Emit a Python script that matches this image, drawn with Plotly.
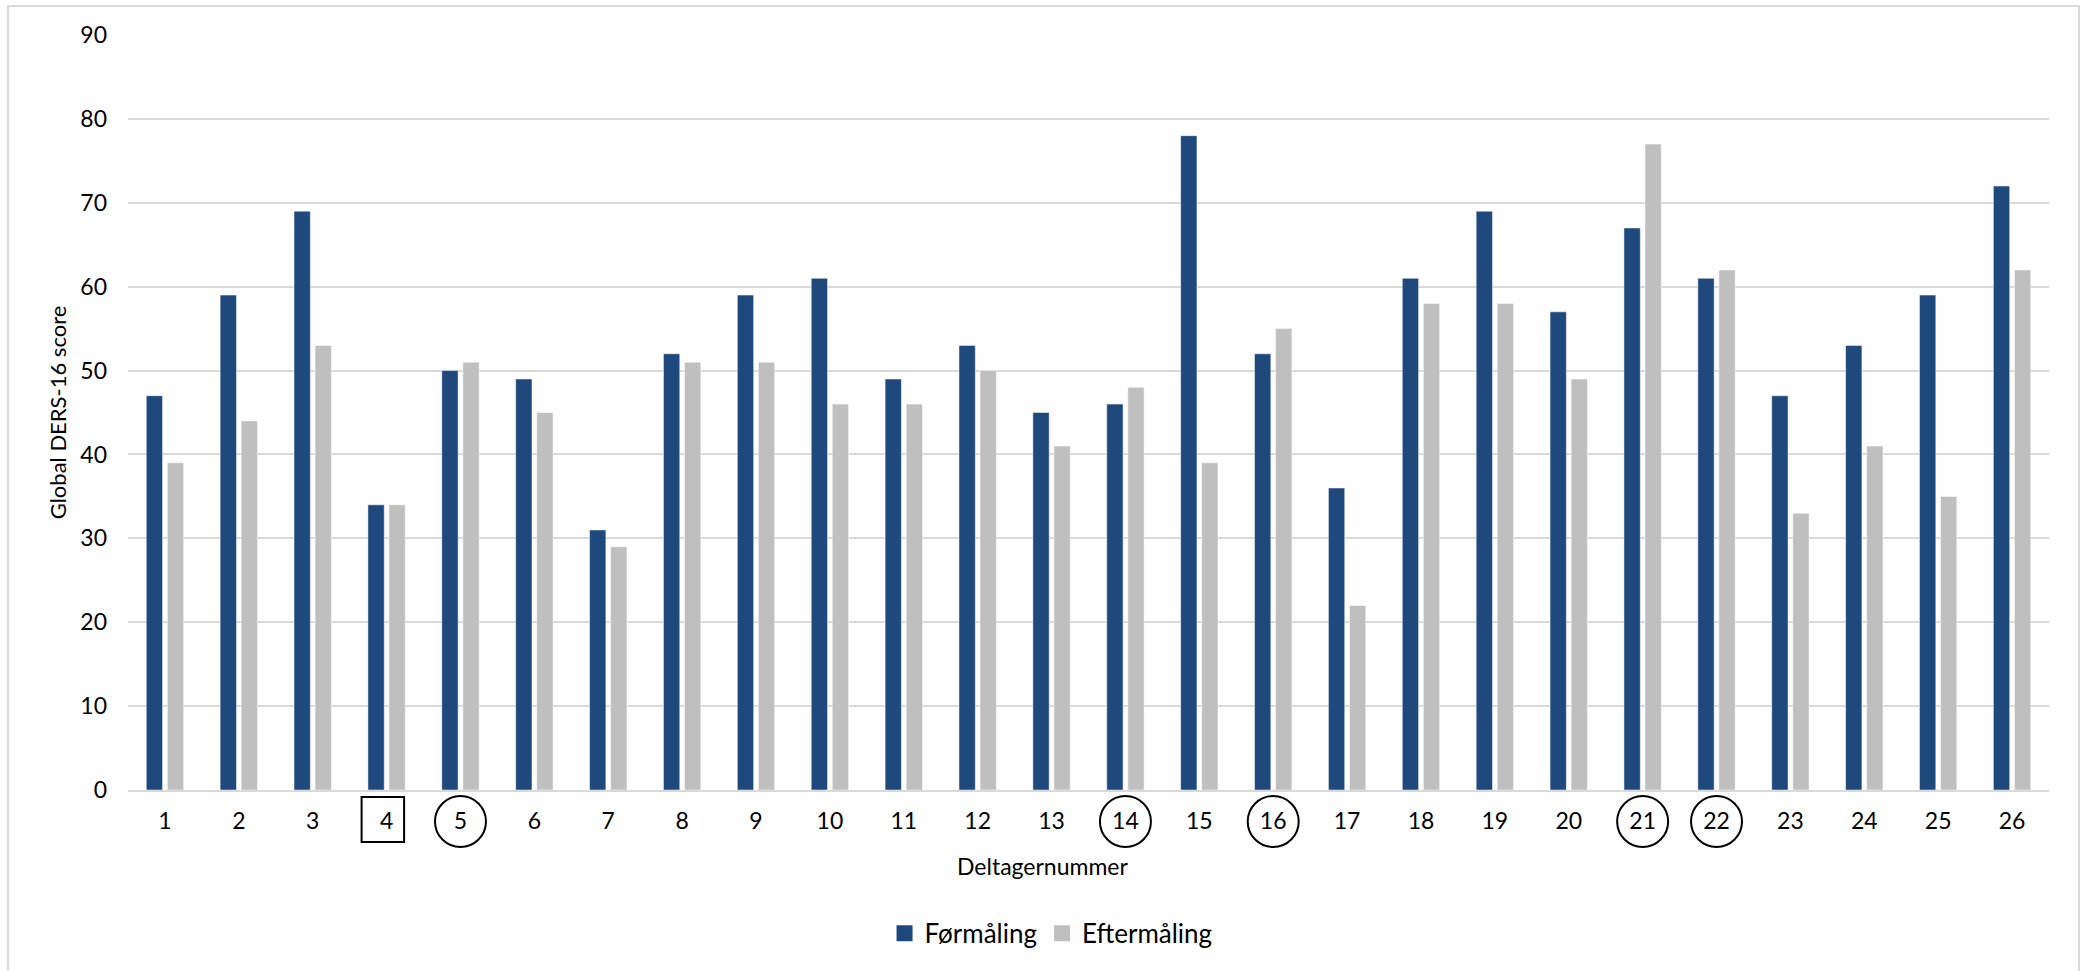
import plotly.graph_objects as go

participants = [str(i) for i in range(1, 27)]
formaaling = [47, 59, 69, 34, 50, 49, 31, 52, 59, 61, 49, 53, 45, 46, 78, 52, 36, 61, 69, 57, 67, 61, 47, 53, 59, 72]
eftermaaling = [39, 44, 53, 34, 51, 45, 29, 51, 51, 46, 46, 50, 41, 48, 39, 55, 22, 58, 58, 49, 77, 62, 33, 41, 35, 62]
circled = ["5", "14", "16", "21", "22"]
boxed = ["4"]
y_ticks = list(range(0, 91, 10))

BLUE = "#1F497D"
GRAY = "#BFBFBF"
GRID = "#D9D9D9"
FONT = "Lato"

W, H = 2087, 971
ML, MR, MT, MB = 128, 38, 35, 181

fig = go.Figure()
fig.add_trace(go.Bar(x=participants, y=formaaling, name="Førmåling", marker=dict(color=BLUE, line=dict(color="rgba(255,255,255,0.5)", width=1)), showlegend=False))
fig.add_trace(go.Bar(x=participants, y=eftermaaling, name="Eftermåling", marker=dict(color=GRAY, line=dict(color="rgba(255,255,255,0.5)", width=1)), showlegend=False))
# legend entries with square symbols
for nm, col in [("Førmåling", BLUE), ("Eftermåling", GRAY)]:
    fig.add_trace(go.Scatter(x=[None], y=[None], mode="markers", name=nm,
                             marker=dict(symbol="square", size=16, color=col)))

shapes = []
pw = W - ML - MR
ph = H - MT - MB
# outer chart border
shapes.append(dict(type="rect", xref="paper", yref="paper",
                   x0=(8 - ML) / pw, x1=(2079 - ML) / pw,
                   y0=-(H - MT - ph + 20) / ph, y1=(ph + MT - 6) / ph,
                   line=dict(color=GRID, width=2), fillcolor="rgba(0,0,0,0)", layer="below"))
for c in circled:
    shapes.append(dict(type="circle", xref="x", yref="paper", xsizemode="pixel", ysizemode="pixel",
                       xanchor=participants.index(c), yanchor=0,
                       x0=-25.5, x1=25.5, y0=-57, y1=-6,
                       line=dict(color="black", width=2)))
for c in boxed:
    shapes.append(dict(type="rect", xref="x", yref="paper", xsizemode="pixel", ysizemode="pixel",
                       xanchor=participants.index(c), yanchor=0,
                       x0=-25, x1=17.5, y0=-52, y1=-7,
                       line=dict(color="black", width=2)))

# x-axis title centred on the whole chart area (as in the original)
annotations = [dict(text="Deltagernummer", xref="paper", yref="paper",
                    x=(1043 - ML) / pw, y=-(866 - (H - MB)) / ph,
                    xanchor="center", yanchor="middle", showarrow=False,
                    font=dict(size=23, family=FONT, color="black"))]

fig.update_layout(
    width=W, height=H, autosize=False,
    margin=dict(l=ML, r=MR, t=MT, b=MB),
    paper_bgcolor="white", plot_bgcolor="white",
    font=dict(family=FONT, color="black", size=23),
    barmode="group", bargap=0.43, bargroupgap=0.224,
    shapes=shapes, annotations=annotations,
    legend=dict(orientation="h", x=0.4805, xanchor="center", y=-0.19, yanchor="middle",
                font=dict(size=26), itemsizing="trace", tracegroupgap=0),
    xaxis=dict(type="category", categoryorder="array", categoryarray=participants,
               showgrid=False, showline=True, linecolor=GRID, linewidth=2,
               ticks="", ticklabelstandoff=9, tickfont=dict(size=23)),
    yaxis=dict(range=[0, 90], tickvals=y_ticks, showgrid=True, gridcolor=GRID, gridwidth=2,
               zeroline=False, showline=False, ticks="", ticklabelstandoff=20,
               tickfont=dict(size=23),
               title=dict(text="Global DERS-16 score", font=dict(size=22), standoff=7)),
)

fig.write_html("out.html", config={"displayModeBar": False},
               post_script="document.body.style.margin='0px';document.body.style.overflow='hidden';")
